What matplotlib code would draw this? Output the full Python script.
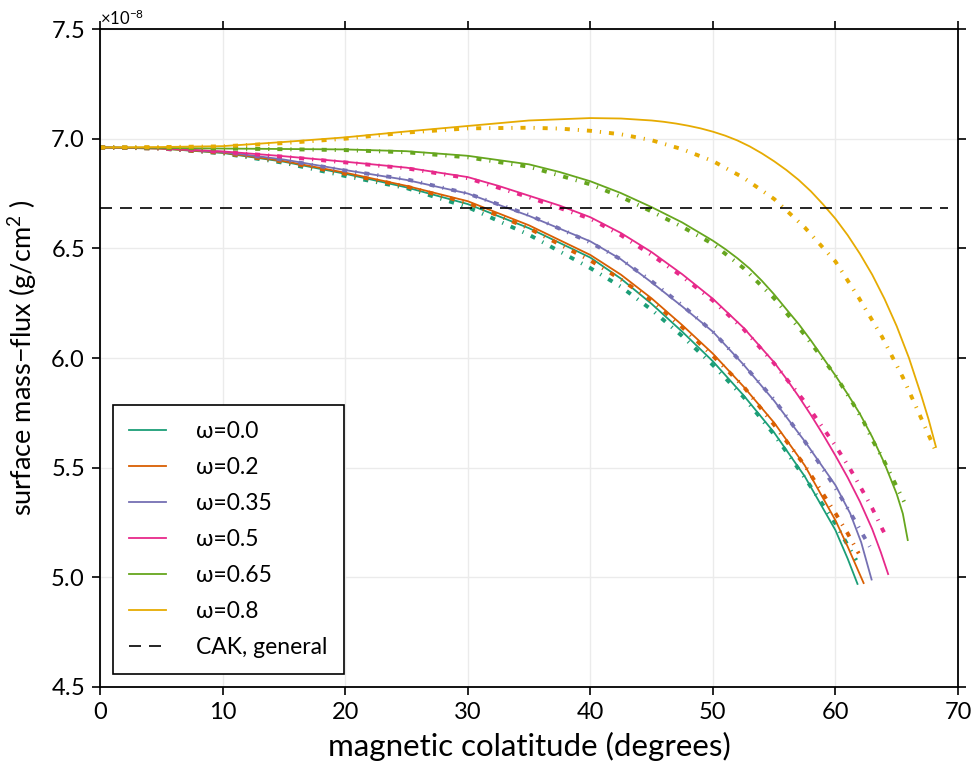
import matplotlib
matplotlib.use("Agg")
import matplotlib.pyplot as plt
import numpy as np

plt.rcParams['font.family'] = ['Lato', 'DejaVu Sans']
plt.rcParams['mathtext.fontset'] = 'custom'
plt.rcParams['mathtext.rm'] = 'Lato'

# surface mass-flux vs magnetic colatitude, values in units of 1e-8 g/cm^2
omega_labels = ['ω=0.0', 'ω=0.2', 'ω=0.35', 'ω=0.5', 'ω=0.65', 'ω=0.8']
colors = ['#1b9e77', '#d95f02', '#7570b3', '#e7298a', '#66a61e', '#e6ab02']

# solid curves
x_w00 = [0, 5, 10, 15, 20, 25, 30, 35, 40, 42.5, 45, 47.5, 50, 52.5, 55, 57.5, 60, 61, 61.8]
y_w00 = [6.960, 6.955, 6.935, 6.895, 6.840, 6.778, 6.702, 6.592, 6.458, 6.362, 6.247,
         6.120, 5.985, 5.830, 5.660, 5.460, 5.215, 5.085, 4.970]
x_w02 = [0, 5, 10, 15, 20, 25, 30, 35, 40, 42.5, 45, 47.5, 50, 52.5, 55, 57.5, 60, 61, 62.3]
y_w02 = [6.960, 6.955, 6.937, 6.898, 6.845, 6.785, 6.715, 6.605, 6.470, 6.380, 6.272,
         6.150, 6.020, 5.870, 5.705, 5.510, 5.260, 5.140, 4.974]
x_w035 = [0, 5, 10, 15, 20, 25, 30, 35, 40, 42.5, 45, 47.5, 50, 52.5, 55, 57.5, 60,
          61.2, 62.1, 62.95]
y_w035 = [6.960, 6.957, 6.940, 6.905, 6.857, 6.812, 6.750, 6.648, 6.532, 6.450, 6.345,
          6.235, 6.120, 5.970, 5.805, 5.620, 5.420, 5.292, 5.160, 4.990]
x_w05 = [0, 5, 10, 15, 20, 25, 30, 32.5, 35, 37.5, 40, 42.5, 45, 47.5, 50, 52.5, 55,
         56, 57, 58, 59, 60, 61, 62, 63, 63.7, 64.3]
y_w05 = [6.960, 6.956, 6.942, 6.920, 6.895, 6.868, 6.825, 6.785, 6.740, 6.695, 6.642,
         6.570, 6.483, 6.382, 6.270, 6.138, 5.980, 5.905, 5.825, 5.740, 5.650, 5.555,
         5.455, 5.345, 5.220, 5.115, 5.015]
x_w065 = [0, 5, 10, 15, 20, 25, 30, 35, 37.5, 40, 42.5, 45, 47.5, 50, 51, 52, 53, 54, 55,
          56, 57, 58, 59, 60, 61, 62, 63, 64, 65, 65.5, 65.9]
y_w065 = [6.960, 6.958, 6.955, 6.953, 6.951, 6.943, 6.922, 6.883, 6.848, 6.806, 6.752,
          6.688, 6.618, 6.535, 6.497, 6.455, 6.408, 6.352, 6.290, 6.222, 6.155, 6.080,
          6.000, 5.920, 5.835, 5.745, 5.640, 5.520, 5.380, 5.290, 5.170]
x_w08 = [0, 5, 10, 15, 20, 25, 30, 35, 40, 42.5, 45, 46, 47, 48, 49, 50, 51, 52, 53, 54,
         55, 56, 57, 58, 59, 60, 61, 62, 63, 64, 65, 66, 67, 67.6, 68.2]
y_w08 = [6.960, 6.962, 6.966, 6.985, 7.006, 7.033, 7.058, 7.083, 7.094, 7.092, 7.083,
         7.077, 7.069, 7.059, 7.047, 7.032, 7.014, 6.992, 6.965, 6.933, 6.897, 6.857,
         6.812, 6.760, 6.700, 6.635, 6.560, 6.475, 6.380, 6.270, 6.145, 6.000, 5.830,
         5.720, 5.595]

# dash-dot curves
xd_w00 = [0, 5, 10, 15, 20, 25, 30, 35, 40, 42.5, 45, 47.5, 50, 52.5, 55, 57.5, 60, 61.7]
yd_w00 = [6.960, 6.955, 6.933, 6.890, 6.830, 6.775, 6.688, 6.562, 6.410, 6.325, 6.220,
          6.100, 5.968, 5.822, 5.651, 5.454, 5.245, 5.078]
xd_w02 = [0, 5, 10, 15, 20, 25, 30, 35, 40, 42.5, 45, 47.5, 50, 52.5, 55, 57.5, 60, 61, 61.9]
yd_w02 = [6.960, 6.955, 6.935, 6.895, 6.840, 6.782, 6.707, 6.591, 6.445, 6.358, 6.262,
          6.140, 6.010, 5.870, 5.695, 5.510, 5.292, 5.200, 5.109]
xd_w035 = [0, 5, 10, 15, 20, 25, 30, 35, 40, 42.5, 45, 47.5, 50, 52.5, 55, 57.5, 60,
           61.4, 62.8]
yd_w035 = [6.960, 6.957, 6.940, 6.903, 6.855, 6.815, 6.750, 6.652, 6.527, 6.450, 6.350,
           6.240, 6.120, 5.970, 5.810, 5.620, 5.408, 5.276, 5.140]
xd_w05 = [0, 5, 10, 15, 20, 25, 30, 35, 40, 42.5, 45, 47.5, 50, 52.5, 55, 57.5, 60,
          61.2, 62.1, 63, 63.8, 64.2]
yd_w05 = [6.960, 6.956, 6.940, 6.918, 6.892, 6.865, 6.820, 6.733, 6.635, 6.560, 6.470,
          6.372, 6.262, 6.132, 5.975, 5.800, 5.600, 5.494, 5.406, 5.315, 5.223, 5.180]
xd_w065 = [0, 5, 10, 15, 20, 25, 30, 35, 40, 42.5, 45, 47.5, 50, 52.5, 55, 57.5, 60,
           61.3, 62.3, 63.1, 64.0, 64.8, 65.6]
yd_w065 = [6.960, 6.958, 6.955, 6.952, 6.948, 6.938, 6.915, 6.872, 6.792, 6.735, 6.668,
           6.598, 6.520, 6.410, 6.272, 6.105, 5.920, 5.805, 5.710, 5.618, 5.527, 5.436, 5.345]
xd_w08 = [0, 5, 10, 15, 20, 25, 30, 35, 37.5, 40, 42.5, 45, 47.5, 50, 52.5, 55, 57.5, 60,
          61.9, 63.8, 65.5, 67.0, 68.15]
yd_w08 = [6.960, 6.962, 6.965, 6.980, 7.000, 7.028, 7.047, 7.050, 7.046, 7.036, 7.020,
          6.993, 6.952, 6.898, 6.822, 6.725, 6.595, 6.440, 6.275, 6.097, 5.912, 5.725, 5.580]

cak_x = [0, 69.2]
cak_y = [6.684, 6.684]

solid_x = [x_w00, x_w02, x_w035, x_w05, x_w065, x_w08]
solid_y = [y_w00, y_w02, y_w035, y_w05, y_w065, y_w08]
dd_x = [xd_w00, xd_w02, xd_w035, xd_w05, xd_w065, xd_w08]
dd_y = [yd_w00, yd_w02, yd_w035, yd_w05, yd_w065, yd_w08]

fig = plt.figure(figsize=(9.72, 7.7), dpi=100)
ax = fig.add_axes([0.1029, 0.1078, 0.8827, 0.8545])

for i in range(6):
    ax.plot(solid_x[i], np.array(solid_y[i]) * 1e-8, color=colors[i], lw=1.3,
            label=omega_labels[i])
    l, = ax.plot(dd_x[i], np.array(dd_y[i]) * 1e-8, color=colors[i], lw=2.8,
                 solid_capstyle='butt', dash_capstyle='butt')
    l.set_dashes((1.3, 2.05, 0.3, 2.05))

ax.plot(cak_x, np.array(cak_y) * 1e-8, color='black', lw=1.2, dashes=(7.2, 4.8),
        label='CAK, general')

ax.set_xlim(0, 70)
ax.set_ylim(4.5e-8, 7.5e-8)
ax.set_xticks(np.arange(0, 71, 10))
ax.set_yticks(np.arange(4.5e-8, 7.51e-8, 0.5e-8))
ax.ticklabel_format(axis='y', style='sci', scilimits=(0, 0), useMathText=True)
ax.yaxis.get_offset_text().set_fontsize(12)

ax.grid(True, color='#ebebeb', lw=1.0)
ax.set_axisbelow(True)
ax.tick_params(direction='out', length=6, width=1.2, labelsize=17, pad=5,
               top=True, right=True)
for s in ax.spines.values():
    s.set_linewidth(1.3)

ax.set_xlabel('magnetic colatitude (degrees)', fontsize=22.5, labelpad=6)
ax.set_ylabel('surface mass−flux (g/cm$^2$ )', fontsize=19.5, labelpad=8)

leg = ax.legend(loc='lower left', fontsize=16.5, fancybox=False, edgecolor='black',
                framealpha=1, handlelength=1.65, handletextpad=1.3, labelspacing=0.66,
                borderpad=0.7, borderaxespad=0.55, bbox_to_anchor=(0, 0))
leg.get_frame().set_linewidth(1.2)

fig.savefig('out.png', dpi=100)
